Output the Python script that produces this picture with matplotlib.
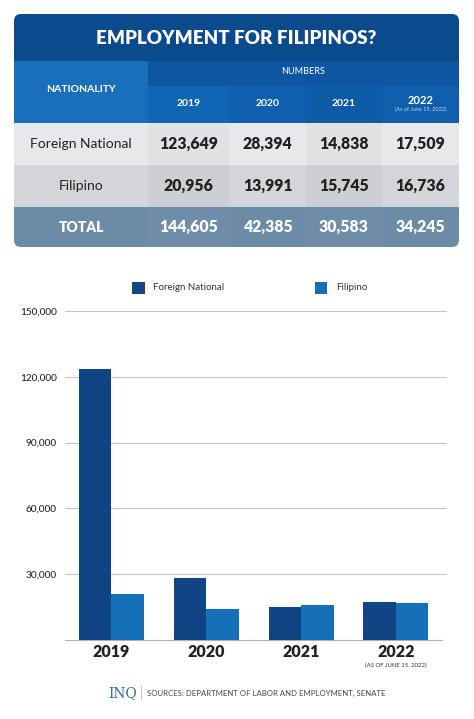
import numpy as np
import matplotlib
matplotlib.use("Agg")
import matplotlib.pyplot as plt
from matplotlib.patches import Rectangle, FancyBboxPatch

years = ["2019", "2020", "2021", "2022"]
year_note = "(As of June 15, 2022)"
axis_note = "(AS OF JUNE 15, 2022)"
nationalities = ["Foreign National", "Filipino"]
foreign = [123649, 28394, 14838, 17509]
filipino = [20956, 13991, 15745, 16736]
totals = [144605, 42385, 30583, 34245]
y_ticks = [30000, 60000, 90000, 120000, 150000]

W, H = 474, 719
fig = plt.figure(figsize=(W / 100, H / 100), dpi=100)
fig.patch.set_facecolor("white")

FONT = "Lato"
c_fn = "#0f4585"
c_fil = "#1570b8"

# ---- table, drawn in pixel coordinates
tab = fig.add_axes([0, 0, 1, 1])
tab.set_xlim(0, W)
tab.set_ylim(H, 0)
tab.axis("off")

x0, x1 = 14, 459
y0, y1 = 14, 247
clip = FancyBboxPatch((x0, y0), x1 - x0, y1 - y0,
                      boxstyle="round,pad=0,rounding_size=7",
                      facecolor="none", edgecolor="none", transform=tab.transData)
tab.add_patch(clip)

col_edges = [14, 148, 229, 306, 382, 459]
row_edges = [123, 165, 207, 247]

def cell(x, y, w, h, color, alpha=1.0):
    r = Rectangle((x, y), w, h, facecolor=color, edgecolor="none", alpha=alpha)
    tab.add_patch(r)
    r.set_clip_path(clip)

cell(x0, y0, x1 - x0, 61 - y0, "#0b4a8c")          # title band
cell(x0, 61, 148 - x0, 123 - 61, "#1a6fbd")          # nationality header
cell(148, 61, x1 - 148, 86 - 61, "#0d56a2")          # numbers band
year_cols = ["#1065b4", "#0f5fae", "#0e5ba8", "#0f5fad"]
for i in range(4):
    cell(col_edges[i + 1], 86, col_edges[i + 2] - col_edges[i + 1], 123 - 86, year_cols[i])
row_cols = ["#e7e8ea", "#d3d5d8", "#6c8ba6"]
for r in range(3):
    cell(x0, row_edges[r], x1 - x0, row_edges[r + 1] - row_edges[r], row_cols[r])
    for i in (1, 3):
        # slight shading on alternate number columns
        cell(col_edges[i], row_edges[r], col_edges[i + 1] - col_edges[i],
             row_edges[r + 1] - row_edges[r], "#000000" if r < 2 else "#ffffff", 0.025)

tab.text((x0 + x1) / 2, 38, "EMPLOYMENT FOR FILIPINOS?", ha="center", va="center",
         color="white", fontsize=13.5, fontweight="heavy", family=FONT)
tab.text(81, 90, "NATIONALITY", ha="center", va="center", color="white",
         fontsize=7.5, fontweight="bold", family=FONT)
tab.text((148 + x1) / 2, 72, "NUMBERS", ha="center", va="center", color="white",
         fontsize=6.5, family=FONT)
for i, yr in enumerate(years):
    cx = (col_edges[i + 1] + col_edges[i + 2]) / 2
    if i == 3:
        tab.text(cx, 100, yr, ha="center", va="center", color="white",
                 fontsize=8, fontweight="bold", family=FONT)
        tab.text(cx, 109.5, year_note, ha="center", va="center", color="#c8d8ec",
                 fontsize=4, family=FONT)
    else:
        tab.text(cx, 104, yr, ha="center", va="center", color="white",
                 fontsize=7.5, fontweight="bold", family=FONT)

rows = [foreign, filipino, totals]
labels = nationalities + ["TOTAL"]
for r in range(3):
    cy = (row_edges[r] + row_edges[r + 1]) / 2
    col = "#222222" if r < 2 else "white"
    tab.text(81, cy, labels[r], ha="center", va="center", color=col,
             fontsize=10, fontweight="normal" if r < 2 else "heavy", family=FONT)
    for i in range(4):
        cx = (col_edges[i + 1] + col_edges[i + 2]) / 2
        tab.text(cx, cy, f"{rows[r][i]:,}", ha="center", va="center", color=col,
                 fontsize=11.3, fontweight="heavy", family=FONT)

# legend
tab.add_patch(Rectangle((132.5, 281.5), 12.5, 12.5, facecolor=c_fn, edgecolor="none"))
tab.text(153, 288, "Foreign National", ha="left", va="center", color="#333333",
         fontsize=7, family=FONT)
tab.add_patch(Rectangle((315, 281.5), 12.5, 12.5, facecolor=c_fil, edgecolor="none"))
tab.text(336, 288, "Filipino", ha="left", va="center", color="#333333",
         fontsize=7, family=FONT)

# footer
tab.text(123, 693, "INQ", ha="center", va="center", color="#2b6cb0",
         fontsize=10, family="DejaVu Serif")
tab.plot([141, 141], [686, 700], color="#bbbbbb", lw=0.6)
tab.text(147, 693, "SOURCES: DEPARTMENT OF LABOR AND EMPLOYMENT, SENATE",
         ha="left", va="center", color="#444444", fontsize=5.6, family=FONT)

# ---- bar chart
ax = fig.add_axes([65 / W, (H - 640) / H, (447 - 65) / W, (640 - 311) / H])
ax.set_zorder(-1)
x = np.arange(len(years))
bw = 0.343
ax.bar(x - bw / 2, foreign, bw, color=c_fn, zorder=3)
ax.bar(x + bw / 2, filipino, bw, color=c_fil, zorder=3)
ax.set_xlim(-0.49, 3.54)
ax.set_ylim(0, 150000)
ax.set_yticks(y_ticks)
ax.set_yticklabels([f"{v:,}" for v in y_ticks], family=FONT, fontsize=7.2,
                   color="#222222", fontweight="medium")
ax.grid(axis="y", color="#c4c4c4", lw=0.8, zorder=0)
ax.tick_params(axis="y", length=0, pad=6)
ax.tick_params(axis="x", length=0, pad=3)
ax.set_xticks(x)
ax.set_xticklabels(years, family=FONT, fontsize=11.5, fontweight="heavy", color="#222222")
for s in ["top", "right", "left"]:
    ax.spines[s].set_visible(False)
ax.spines["bottom"].set_color("#b0b0b0")
ax.spines["bottom"].set_bounds(-0.49, 3.49)
ax.text(3, -0.077, axis_note, transform=ax.get_xaxis_transform(), ha="center",
        va="center", fontsize=4.3, color="#333333", family=FONT)

fig.savefig("out.png", dpi=100, facecolor="white")
